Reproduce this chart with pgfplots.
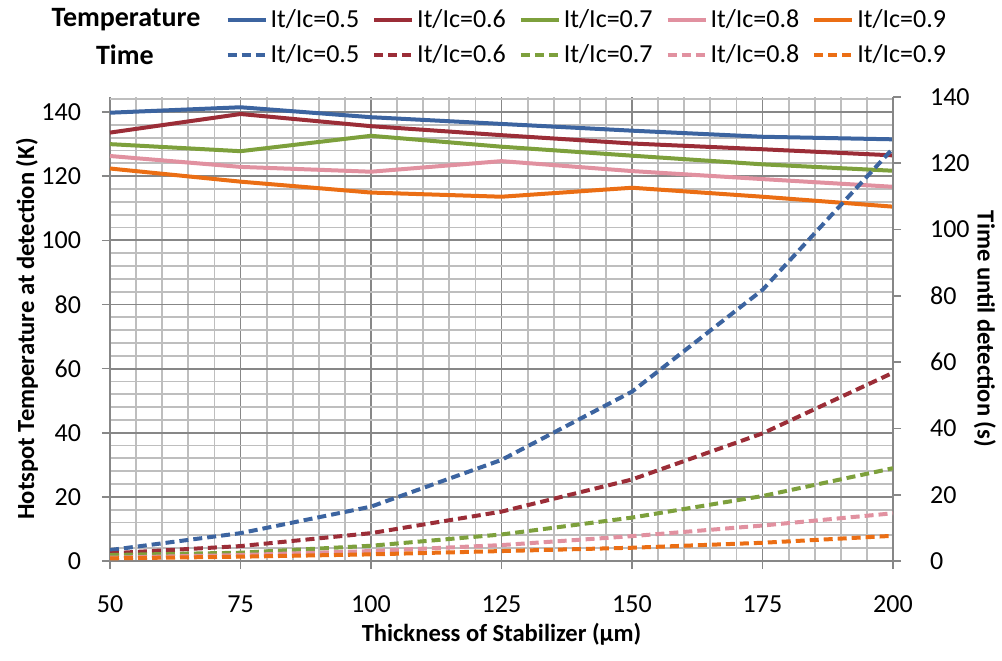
\documentclass[border=0pt]{standalone}
\usepackage{fontspec}
\setmainfont{Carlito}
\usepackage{pgfplots}
\usepackage{pgfplotstable}
\pgfplotsset{compat=1.18}
\definecolor{cA}{RGB}{60,100,160}
\definecolor{cB}{RGB}{155,45,55}
\definecolor{cC}{RGB}{125,160,60}
\definecolor{cD}{RGB}{225,145,160}
\definecolor{cE}{RGB}{235,110,20}
\definecolor{gmaj}{RGB}{135,135,135}
\definecolor{gmin}{RGB}{190,190,190}

\pgfplotstableread{
x T5 T6 T7 T8 T9
50 139.8 133.6 130.0 126.3 122.4
75 141.5 139.4 127.8 122.9 118.3
100 138.4 135.6 132.6 121.4 114.9
125 136.3 132.8 129.2 124.7 113.6
150 134.2 130.2 126.4 121.6 116.4
175 132.3 128.4 123.7 119.1 113.6
200 131.5 126.5 121.7 116.7 110.5
}\temptab

\pgfplotstableread{
x S5 S6 S7 S8 S9
50 3.3 2.3 1.8 1.0 0.8
75 8.4 4.5 2.5 1.8 1.3
100 16.4 8.4 4.6 3.0 2.0
125 30.5 14.9 8.0 4.8 3.0
150 51.1 24.6 13.1 7.5 4.0
175 81.8 38.5 19.6 10.7 5.5
200 124.5 56.8 28.0 14.4 7.6
}\timetab

\pgfplotsset{
  common/.style={
    at={(55pt,49.5pt)}, anchor=south west,
    scale only axis, width=391.5pt, height=232pt,
    xmin=50, xmax=200,
    ymin=0,
    tick align=outside,
    major tick length=4pt,
    minor tick length=0pt,
    tick style={gmaj, line width=0.8pt},
    axis line style={gmaj, line width=0.9pt},
    ticklabel style={font=\fontsize{13}{15}\selectfont, text=black},
    /pgf/number format/assume math mode=true,
    label style={font=\bfseries\fontsize{12.3}{14}\selectfont},
  },
  sol/.style={line width=2pt, solid},
  das/.style={line width=2pt, dash pattern=on 4.5pt off 2.5pt},
}

\begin{document}
\begin{tikzpicture}
\useasboundingbox (0,0) rectangle (501pt,330pt);
\begin{axis}[common,
  ymax=144.7,
  axis x line*=bottom, axis y line*=left,
  xtick={50,75,...,200},
  minor x tick num=4,
  ytick={0,20,...,140},
  minor y tick num=4,
  extra y ticks={144},
  extra y tick labels={},
  extra y tick style={major tick length=0pt, grid=major, major grid style={gmin, line width=0.9pt}},
  grid=both,
  major grid style={gmaj, line width=0.9pt},
  minor grid style={gmin, line width=0.9pt},
  xticklabel style={yshift=-10pt},
  yticklabel style={xshift=-7pt},
  xlabel={Thickness of Stabilizer (µm)},
  xlabel style={at={(axis description cs:0.5,-0.159)}, anchor=center},
  ylabel={Hotspot Temperature at detection (K)},
  ylabel style={at={(axis description cs:-0.106,0.5)}, anchor=center},
  legend columns=5,
  legend style={at={(0.147,1.128)}, anchor=west, draw=none, fill=none,
    inner sep=0pt, row sep=5pt,
    font=\fontsize{13}{15}\selectfont,
    nodes={inner xsep=1.5pt, inner ysep=1pt},
    /tikz/every even column/.append style={column sep=5pt}},
  legend image code/.code={\draw[#1] (0pt,0pt) -- (19pt,0pt);},
  clip=false,
]
\addplot[sol, cA] table[x=x, y=T5] {\temptab};
\addlegendentry{It/Ic=0.5}
\addplot[sol, cB] table[x=x, y=T6] {\temptab};
\addlegendentry{It/Ic=0.6}
\addplot[sol, cC] table[x=x, y=T7] {\temptab};
\addlegendentry{It/Ic=0.7}
\addplot[sol, cD] table[x=x, y=T8] {\temptab};
\addlegendentry{It/Ic=0.8}
\addplot[sol, cE] table[x=x, y=T9] {\temptab};
\addlegendentry{It/Ic=0.9}
\addlegendimage{das, cA}\addlegendentry{It/Ic=0.5}
\addlegendimage{das, cB}\addlegendentry{It/Ic=0.6}
\addlegendimage{das, cC}\addlegendentry{It/Ic=0.7}
\addlegendimage{das, cD}\addlegendentry{It/Ic=0.8}
\addlegendimage{das, cE}\addlegendentry{It/Ic=0.9}
\node[font=\bfseries\fontsize{14}{16}\selectfont] at (rel axis cs:0.0204,1.166) {Temperature};
\node[font=\bfseries\fontsize{14}{16}\selectfont] at (rel axis cs:0.019,1.0905) {Time};
\end{axis}
\begin{axis}[common,
  ymax=140,
  axis x line=none, axis y line*=right,
  ytick={0,20,...,140},
  yticklabel style={xshift=11pt},
  ylabel={Time until detection (s)},
  ylabel style={at={(axis description cs:1.1175,0.5)}, anchor=center, rotate=180},
]
\addplot[das, cA] table[x=x, y=S5] {\timetab};
\addplot[das, cB] table[x=x, y=S6] {\timetab};
\addplot[das, cC] table[x=x, y=S7] {\timetab};
\addplot[das, cD] table[x=x, y=S8] {\timetab};
\addplot[das, cE] table[x=x, y=S9] {\timetab};
\end{axis}
\end{tikzpicture}
\end{document}
